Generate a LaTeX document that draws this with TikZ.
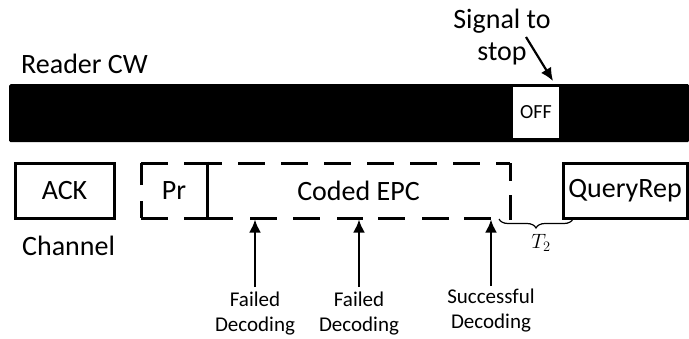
\documentclass[tikz,border=0pt]{standalone}
\usepackage{fontspec}
\setmainfont{Carlito}
\usetikzlibrary{arrows.meta,decorations.pathreplacing}

\tikzset{
  bigtxt/.style={font=\fontsize{28}{32}\selectfont},
  smalltxt/.style={font=\fontsize{21}{25}\selectfont, align=center, inner sep=0pt},
  framebox/.style={draw=black, line width=3pt, inner sep=0pt, bigtxt},
  dashbox/.style={draw=black, line width=3pt, dash pattern=on 27pt off 16pt},
  uparrow/.style={line width=2.4pt, -{Latex[length=13pt,width=12pt]}},
  stoparrow/.style={line width=2.2pt, -{Latex[length=13pt,width=12pt]}},
}

\begin{document}
\begin{tikzpicture}[x=1pt,y=-1pt]
  \useasboundingbox (0,0) rectangle (689,338);

  % reader continuous wave and its gap
  \node (bar) [fill=black, rounded corners=1.5pt, inner sep=0pt, minimum width=680pt,
               minimum height=58pt, anchor=north west] at (9,84) {};
  \node (off) [fill=white, inner sep=0pt, minimum width=46pt, minimum height=51pt,
               font=\fontsize{20}{24}\selectfont] at (536,112.5) {OFF};
  \node (reader) [bigtxt, anchor=base west, inner sep=0pt] at (21,73) {Reader CW};

  % stop signal (base anchor sits on the last line)
  \node (signal) [bigtxt, align=center, inner sep=0pt, anchor=base] at (502,60)
        {Signal to\\stop};
  \coordinate (stopfrom) at (526,37);
  \coordinate (stopto) at (553,81);
  \draw[stoparrow] (stopfrom) -- (stopto);

  % channel
  \node (ack) [framebox, minimum width=99pt, minimum height=55pt] at (64.5,190.5) {ACK};
  \node (qrep) [framebox, minimum width=124pt, minimum height=55pt] at (625,190.5) {QueryRep};
  \node (channel) [bigtxt, anchor=base west, inner sep=0pt] at (22,255) {Channel};

  % preamble and coded EPC (dashed)
  \draw[dashbox, dash phase=0pt] (141,163) -- (207,163);
  \draw[dashbox, dash phase=10pt] (141,218) -- (141,163);
  \draw[dashbox, dash phase=0pt] (141,218) -- (207,218);
  \draw[dashbox, dash phase=12pt] (207,163) -- (510,163);
  \draw[dashbox, dash phase=0pt] (510,163) -- (510,181) (510,195) -- (510,219.5);
  \draw[dashbox, dash phase=0pt, dash pattern=on 27pt off 16pt] (207,218) -- (233,218)
        (250,218) -- (278,218) (293,218) -- (320,218) (337,218) -- (363,218)
        (378,218) -- (407,218) (422,218) -- (449,218) (464,218) -- (491,218);
  \draw[line width=3pt] (207,161.5) -- (207,219.5);
  \node (pr) [bigtxt, inner sep=0pt] at (174,190.5) {Pr};
  \node (epc) [bigtxt, inner sep=0pt] at (358.5,190.5) {Coded EPC};

  % decoding attempts
  \node (f1) [smalltxt, anchor=north] at (255,292) {Failed\\Decoding};
  \node (f2) [smalltxt, anchor=north] at (359,292) {Failed\\Decoding};
  \node (s1) [smalltxt, anchor=north] at (491,289) {Successful\\Decoding};
  \coordinate (a1) at (255,219.5);
  \coordinate (a2) at (359,219.5);
  \coordinate (a3) at (491,219.5);
  \draw[uparrow] (f1.north |- 0,287) -- (a1);
  \draw[uparrow] (f2.north |- 0,287) -- (a2);
  \draw[uparrow] (s1.north |- 0,286) -- (a3);

  % T2 gap
  \coordinate (b1) at (499,219);
  \coordinate (b2) at (573,219);
  \draw[line width=1.2pt, decorate, decoration={brace, mirror, amplitude=9pt}] (b1) -- (b2);
  \node (t2) [font=\fontsize{22}{26}\selectfont, inner sep=0pt] at (541,243) {$T_2$};
\end{tikzpicture}
\end{document}
